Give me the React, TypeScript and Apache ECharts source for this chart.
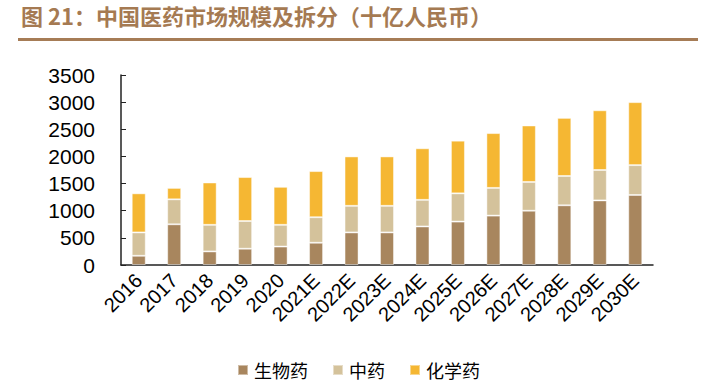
import React, { useEffect, useRef } from "react";
import * as echarts from "echarts";

const categories = ["2016", "2017", "2018", "2019", "2020", "2021E", "2022E", "2023E", "2024E", "2025E", "2026E", "2027E", "2028E", "2029E", "2030E"];
const bioValues = [170, 750, 250, 300, 340, 410, 600, 600, 710, 800, 910, 1000, 1100, 1190, 1290];
const tcmValues = [430, 460, 490, 510, 400, 470, 490, 490, 490, 520, 510, 530, 540, 560, 550];
const chemValues = [720, 210, 780, 810, 700, 850, 910, 910, 950, 970, 1010, 1040, 1070, 1100, 1160];
const seriesNames = ["生物药", "中药", "化学药"];
const titleText = "图 21：中国医药市场规模及拆分（十亿人民币）";

export default function App() {
  const ref = useRef<HTMLDivElement>(null);
  useEffect(() => {
    if (!ref.current) return;
    const chart = echarts.init(ref.current, null, { renderer: "svg" });
    const colors = ["#A8865E", "#D4C29B", "#F5B733"];
    const data = [bioValues, tcmValues, chemValues];
    chart.setOption({
      animation: false,
      backgroundColor: "#ffffff",
      graphic: [
        {
          type: "text",
          left: 21,
          top: 4,
          style: {
            text: titleText,
            font: "bold 22px 'Noto Sans CJK SC', sans-serif",
            fill: "#A57A52",
          },
        },
        {
          type: "rect",
          shape: { x: 18, y: 38, width: 680, height: 3 },
          style: { fill: "#A67C56" },
        },
      ],
      legend: {
        bottom: -1,
        left: 232,
        itemWidth: 10,
        itemHeight: 10,
        itemGap: 24,
        icon: "rect",
        textStyle: { fontSize: 18, color: "#000", fontFamily: "'Noto Sans CJK SC', serif", padding: [0, 0, 0, 1] },
        data: seriesNames,
      },
      grid: { left: 121, right: 54, top: 75, bottom: 118, containLabel: false },
      xAxis: {
        type: "category",
        data: categories,
        axisLine: { lineStyle: { color: "#222", width: 1.5 } },
        axisTick: { inside: true, length: 5, lineStyle: { color: "#222" } },
        axisLabel: {
          rotate: 45,
          fontSize: 20,
          color: "#000",
          fontFamily: "'Liberation Sans', Arial, sans-serif",
          margin: 12,
          interval: 0,
        },
      },
      yAxis: {
        type: "value",
        min: 0,
        max: 3500,
        interval: 500,
        splitLine: { show: false },
        axisLine: { show: true, lineStyle: { color: "#222", width: 1.5 } },
        axisTick: { show: true, inside: true, length: 5, lineStyle: { color: "#222" } },
        axisLabel: {
          fontSize: 21,
          color: "#000",
          fontFamily: "'Liberation Sans', Arial, sans-serif",
          margin: 26,
          formatter: (v: number) => String(v),
        },
      },
      series: seriesNames.map((name, i) => ({
        name,
        type: "bar",
        stack: "total",
        barWidth: 14,
        data: data[i],
        itemStyle: { color: colors[i], borderColor: "rgba(255,255,255,0.45)", borderWidth: 1 },
      })),
    });
    return () => chart.dispose();
  }, []);
  return <div ref={ref} style={{ width: 707, height: 383, position: "absolute", left: 0, top: 0 }} />;
}
